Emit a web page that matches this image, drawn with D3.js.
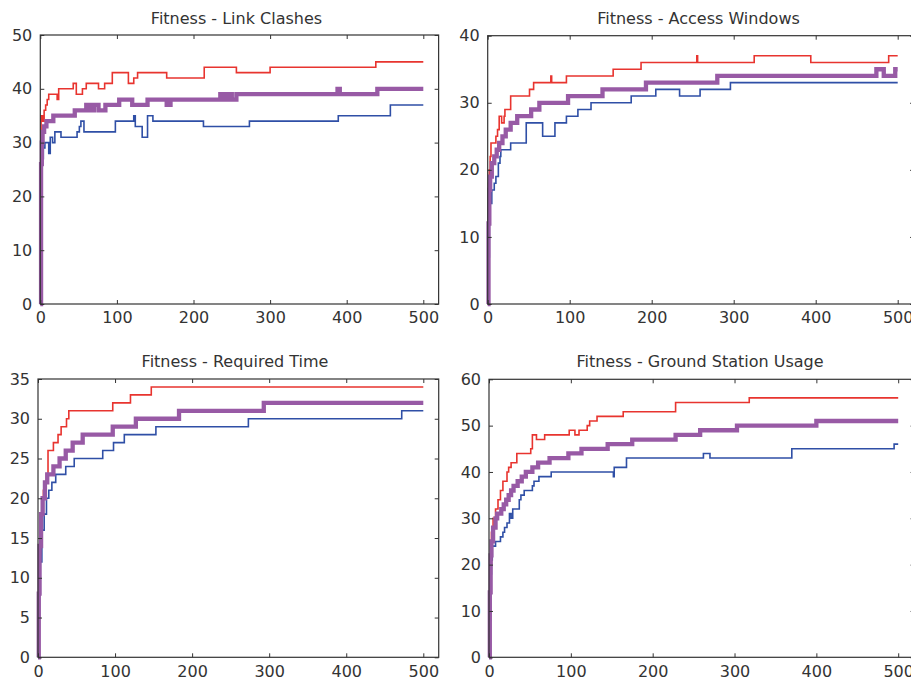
<!DOCTYPE html>
<html>
<head>
<meta charset="utf-8">
<script src="https://cdn.jsdelivr.net/npm/d3@7/dist/d3.min.js"></script>
<style>
  html, body { margin: 0; padding: 0; background: #fff; }
  svg { display: block; }
  text { font-family: "DejaVu Sans", sans-serif; fill: #333; }
</style>
</head>
<body>
<svg id="chart" width="911" height="682"></svg>
<script>
// ---------- data: [generation, fitness] change points (step-after) ----------
const xTicks = [0, 100, 200, 300, 400, 500];

const titles = ["Fitness - Link Clashes", "Fitness - Access Windows",
                "Fitness - Required Time", "Fitness - Ground Station Usage"];

const linkTicks = [0, 10, 20, 30, 40, 50];
const linkMax = [[0,0],[1,35],[3,34],[5,36],[7,37],[9,38],[11,39],[22,38],[24,40],[43,41],[47,39],[55,40],[60,41],[76,40],[84,41],[94,43],[115,41],[122,42],[127,43],[165,42],[214,44],[256,43],[300,44],[438,45],[500,45]];
const linkMean = [[0,0],[1,26],[2,30],[3,32],[5,33],[8,34],[17,35],[45,36],[60,37],[65,36],[70,37],[76,36],[85,37],[103,38],[120,37],[140,38],[165,37],[170,38],[235,39],[240,38],[245,39],[250,38],[256,39],[388,40],[391,39],[440,40],[500,40]];
const linkMin = [[0,0],[1,15],[2,27],[4,29],[6,30],[11,28],[13,31],[16,30],[19,32],[27,31],[48,32],[51,33],[53,34],[57,32],[98,34],[122,35],[124,33],[133,31],[140,35],[147,34],[213,33],[273,34],[389,35],[457,37],[500,37]];

const accessTicks = [0, 10, 20, 30, 40];
const accessMax = [[0,0],[1,18],[2,20],[3,22],[4,24],[10,25],[12,26],[14,28],[17,27],[20,28],[21,29],[28,31],[51,32],[56,33],[77,34],[78,33],[96,34],[153,35],[187,36],[255,37],[256,36],[325,37],[394,36],[489,37],[500,37]];
const accessMean = [[0,0],[1,12],[2,17],[3,19],[5,21],[8,22],[11,23],[14,24],[18,25],[22,26],[28,27],[36,28],[53,29],[63,30],[98,31],[140,32],[193,33],[280,34],[474,35],[483,34],[497,35],[500,35]];
const accessMin = [[0,0],[1,7],[2,13],[3,15],[5,17],[8,18],[10,19],[13,21],[15,22],[16,23],[28,24],[47,27],[67,25],[82,27],[96,28],[110,29],[126,30],[175,31],[205,32],[234,31],[259,32],[296,33],[500,33]];

const timeTicks = [0, 5, 10, 15, 20, 25, 30, 35];
const timeMax = [[0,0],[1,13],[3,16],[5,18],[7,21],[9,22],[11,23],[13,26],[20,27],[26,28],[30,29],[37,30],[40,31],[97,32],[120,33],[147,34],[500,34]];
const timeMean = [[0,0],[1,8],[2,14],[4,18],[6,20],[9,22],[12,23],[20,24],[28,25],[36,26],[45,27],[58,28],[97,29],[127,30],[183,31],[293,32],[500,32]];
const timeMin = [[0,0],[1,5],[2,8],[3,12],[5,16],[8,18],[11,20],[14,21],[18,22],[23,23],[36,24],[47,25],[84,26],[98,27],[112,28],[153,29],[273,30],[472,31],[500,31]];

const groundTicks = [0, 10, 20, 30, 40, 50, 60];
const groundMax = [[0,0],[1,20],[3,27],[5,30],[8,32],[11,34],[14,36],[17,38],[22,40],[24,41],[27,42],[34,44],[51,45],[53,48],[58,47],[68,48],[98,49],[105,48],[110,49],[120,50],[123,51],[132,52],[164,53],[228,55],[318,56],[500,56]];
const groundMean = [[0,0],[1,14],[2,22],[3,25],[5,28],[8,30],[10,31],[15,32],[18,33],[21,34],[24,35],[27,36],[30,37],[35,38],[40,39],[45,40],[53,41],[60,42],[74,43],[97,44],[113,45],[145,46],[175,47],[228,48],[258,49],[303,50],[400,51],[500,51]];
const groundMin = [[0,0],[1,8],[2,18],[3,21],[4,24],[8,25],[14,26],[17,27],[19,28],[22,29],[25,31],[27,30],[29,32],[37,34],[39,35],[43,36],[53,37],[55,38],[61,39],[76,40],[152,39],[153,41],[168,43],[262,44],[270,43],[370,45],[495,46],[500,46]];

// ---------- layout ----------
const panels = [
  { title: titles[0], yTicks: linkTicks,   series: [linkMin, linkMax, linkMean],
    left: 40.3, x500: 423.3, top: 35,   bottom: 304,   titleX: 236.5, titleY: 23.5 },
  { title: titles[1], yTicks: accessTicks, series: [accessMin, accessMax, accessMean],
    left: 487.7, x500: 897.7, top: 35.7, bottom: 304,  titleX: 698.5, titleY: 23.5 },
  { title: titles[2], yTicks: timeTicks,   series: [timeMin, timeMax, timeMean],
    left: 38, x500: 423.3, top: 379,  bottom: 657.3, titleX: 235,   titleY: 366.5 },
  { title: titles[3], yTicks: groundTicks, series: [groundMin, groundMax, groundMean],
    left: 489, x500: 898.2, top: 379.3, bottom: 657.3, titleX: 700, titleY: 366.5 }
];

const styles = [
  { color: "#2f4fa6", width: 1.6 },  // min (blue)
  { color: "#e8342f", width: 1.6 },  // max (red)
  { color: "#985aa5", width: 4.3 }   // mean (purple)
];

const svg = d3.select("#chart");
const xMax = 520;

panels.forEach(p => {
  const right = p.left + (p.x500 - p.left) * xMax / 500;
  const x = d3.scaleLinear().domain([0, xMax]).range([p.left, right]);
  const yTop = p.yTicks[p.yTicks.length - 1];
  const y = d3.scaleLinear().domain([0, yTop]).range([p.bottom, p.top]);

  const g = svg.append("g");

  // lines
  const line = d3.line().x(d => x(d[0])).y(d => y(d[1])).curve(d3.curveStepAfter);
  p.series.forEach((s, i) => {
    g.append("path").datum(s)
      .attr("fill", "none")
      .attr("stroke", styles[i].color)
      .attr("stroke-width", styles[i].width)
      .attr("stroke-linejoin", "miter")
      .attr("d", line);
  });

  // axes
  const fmt = d3.format("d");
  const bottomAx = g.append("g").attr("transform", `translate(0,${p.bottom})`)
    .call(d3.axisBottom(x).tickValues(xTicks).tickFormat(fmt).tickSizeInner(-4).tickSizeOuter(0).tickPadding(8));
  const topAx = g.append("g").attr("transform", `translate(0,${p.top})`)
    .call(d3.axisTop(x).tickValues(xTicks).tickFormat("").tickSizeInner(-4).tickSizeOuter(0));
  const leftAx = g.append("g").attr("transform", `translate(${p.left},0)`)
    .call(d3.axisLeft(y).tickValues(p.yTicks).tickFormat(fmt).tickSizeInner(-4).tickSizeOuter(0).tickPadding(8));
  const rightAx = g.append("g").attr("transform", `translate(${right},0)`)
    .call(d3.axisRight(y).tickValues(p.yTicks).tickFormat("").tickSizeInner(-4).tickSizeOuter(0));

  [bottomAx, topAx, leftAx, rightAx].forEach(a => {
    a.select(".domain").remove();
    a.selectAll(".tick line").attr("stroke", "#333").attr("stroke-width", 1);
    a.selectAll("text").style("font-family", "'DejaVu Sans', sans-serif")
      .style("font-size", "16px").attr("fill", "#333");
  });

  // box
  g.append("rect")
    .attr("x", p.left).attr("y", p.top)
    .attr("width", right - p.left).attr("height", p.bottom - p.top)
    .attr("fill", "none").attr("stroke", "#333").attr("stroke-width", 1.2);

  // title
  g.append("text")
    .attr("x", p.titleX).attr("y", p.titleY)
    .attr("text-anchor", "middle")
    .style("font-size", "16px")
    .text(p.title);
});
</script>
</body>
</html>
